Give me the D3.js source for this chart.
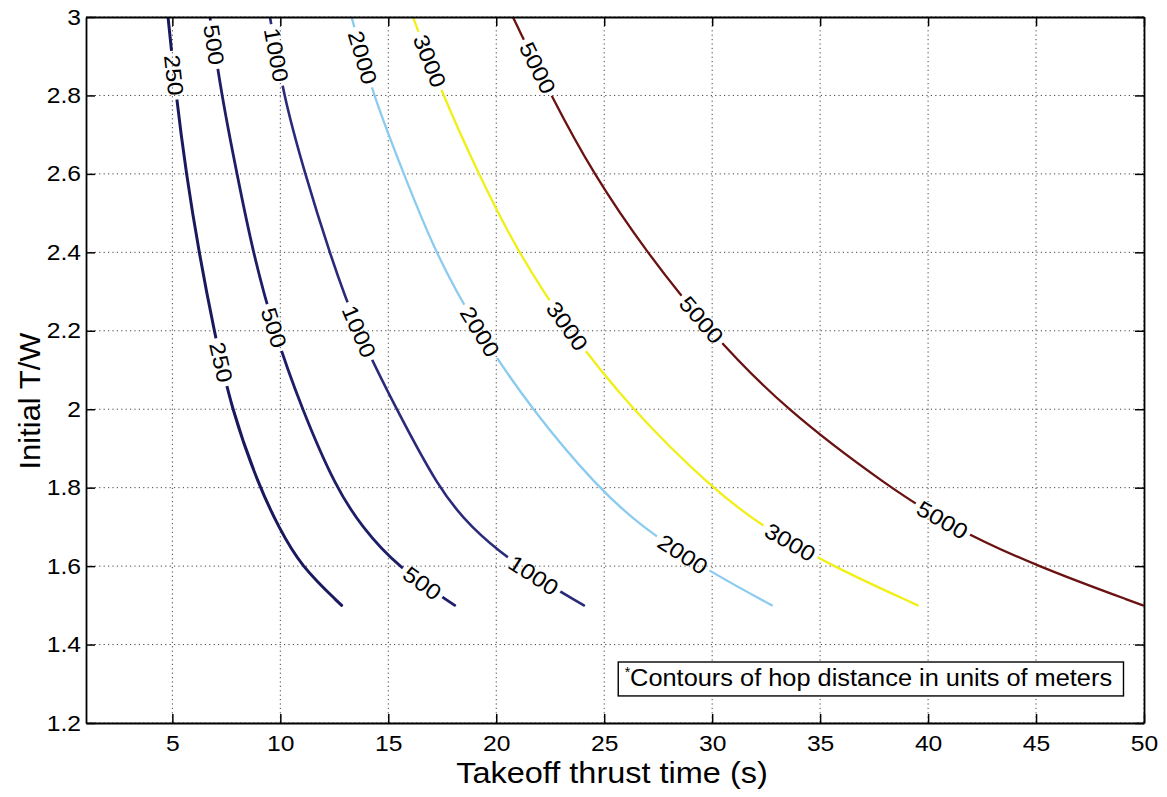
<!DOCTYPE html>
<html>
<head>
<meta charset="utf-8">
<script src="https://cdn.jsdelivr.net/npm/d3@7"></script>
<style>
  html, body { margin: 0; padding: 0; background: #fff; }
  svg { display: block; }
  text { font-family: "Liberation Sans", Arial, Helvetica, sans-serif; fill: #000; }
</style>
</head>
<body>
<svg id="chart" width="1167" height="797"></svg>
<script>
// ---------------- data ----------------
const levels = [250, 500, 1000, 2000, 3000, 5000];

const tw250   = [3.0, 2.8, 2.6, 2.4, 2.2, 2.0, 1.8, 1.7, 1.6, 1.5];
const time250 = [4.80, 5.17, 5.64, 6.23, 6.93, 7.73, 9.04, 9.92, 10.94, 12.84];

const tw500   = [3.0, 2.8, 2.6, 2.4, 2.2, 2.0, 1.8, 1.7, 1.6, 1.5];
const time500 = [6.74, 7.28, 7.99, 8.73, 9.70, 11.00, 12.57, 13.78, 15.38, 18.08];

const tw1000   = [3.0, 2.8, 2.6, 2.4, 2.2, 2.0, 1.8, 1.7, 1.6, 1.5];
const time1000 = [9.52, 10.14, 11.14, 12.27, 13.55, 15.38, 17.31, 18.78, 20.95, 24.06];

const tw2000   = [3.0, 2.8, 2.6, 2.4, 2.2, 2.0, 1.8, 1.7, 1.6, 1.5];
const time2000 = [13.30, 14.29, 15.72, 17.16, 19.15, 21.63, 24.70, 26.74, 29.43, 32.76];

const tw3000   = [3.0, 2.8, 2.6, 2.4, 2.2, 2.0, 1.8, 1.7, 1.6, 1.5];
const time3000 = [16.14, 17.53, 19.18, 21.00, 23.36, 26.26, 29.96, 32.33, 35.54, 39.52];

const tw5000   = [3.0, 2.8, 2.6, 2.4, 2.2, 2.0, 1.8, 1.7, 1.6, 1.5];
const time5000 = [20.77, 22.53, 24.49, 26.96, 29.85, 33.36, 38.22, 41.09, 45.00, 49.95];

// contour label anchors (T/W value where each in-line label sits)
const labelTW250  = [2.852, 2.12];
const labelTW500  = [2.93, 2.208, 1.557];
const labelTW1000 = [2.903, 2.198, 1.577];
const labelTW2000 = [2.897, 2.198, 1.631];
const labelTW3000 = [2.888, 2.212, 1.661];
const labelTW5000 = [2.87, 2.228, 1.718];

const xTicks = [5, 10, 15, 20, 25, 30, 35, 40, 45, 50];
const yTicks = [1.2, 1.4, 1.6, 1.8, 2.0, 2.2, 2.4, 2.6, 2.8, 3.0];
const yTickLabels = ["1.2", "1.4", "1.6", "1.8", "2", "2.2", "2.4", "2.6", "2.8", "3"];

const xTitle = "Takeoff thrust time (s)";
const yTitle = "Initial T/W";
const noteText = "Contours of hop distance in units of meters";

const colors = ["#19195e", "#1e1e68", "#2a2a7a", "#8ccbf0", "#f0f018", "#6a1212"];
const widths = [3.0, 2.8, 2.6, 2.3, 2.3, 2.3];

// ---------------- build ----------------
const series = [
  {level: 250,  t: time250,  w: tw250,  lab: labelTW250},
  {level: 500,  t: time500,  w: tw500,  lab: labelTW500},
  {level: 1000, t: time1000, w: tw1000, lab: labelTW1000},
  {level: 2000, t: time2000, w: tw2000, lab: labelTW2000},
  {level: 3000, t: time3000, w: tw3000, lab: labelTW3000},
  {level: 5000, t: time5000, w: tw5000, lab: labelTW5000}
];

const svg = d3.select("#chart");
const L = 86, R = 1144, T = 17, B = 723;
const x = d3.scaleLinear().domain([1, 50]).range([L, R]);
const y = d3.scaleLinear().domain([1.2, 3]).range([B, T]);
const STRETCH = 1.12;

function stretch(sel, k) {
  sel.each(function () {
    const w = this.getComputedTextLength();
    d3.select(this).attr("textLength", w * k).attr("lengthAdjust", "spacingAndGlyphs");
  });
}

const defs = svg.append("defs");
defs.append("clipPath").attr("id", "plotclip")
  .append("rect").attr("x", L).attr("y", T).attr("width", R - L).attr("height", B - T);

// grid
const grid = svg.append("g").attr("stroke", "#444").attr("stroke-width", 1)
  .attr("stroke-dasharray", "1.2,3.2");
grid.selectAll("line.gx").data(xTicks).join("line")
  .attr("x1", d => x(d)).attr("x2", d => x(d)).attr("y1", T).attr("y2", B);
grid.selectAll("line.gy").data(yTicks).join("line")
  .attr("y1", d => y(d)).attr("y2", d => y(d)).attr("x1", L).attr("x2", R);

// mask for label gaps
const mask = defs.append("mask").attr("id", "labelmask").attr("maskUnits", "userSpaceOnUse")
  .attr("x", 0).attr("y", 0).attr("width", 1167).attr("height", 797);
mask.append("rect").attr("x", 0).attr("y", 0).attr("width", 1167).attr("height", 797).attr("fill", "#fff");

const line = d3.line().x(d => x(d[0])).y(d => y(d[1])).curve(d3.curveBasis);

const curves = svg.append("g").attr("clip-path", "url(#plotclip)")
  .append("g").attr("mask", "url(#labelmask)");
const labelG = svg.append("g");

const LFS = 22;
series.forEach((s, i) => {
  const pts = s.t.map((v, k) => [v, s.w[k]]);
  const p = curves.append("path").datum(pts)
    .attr("d", line).attr("fill", "none")
    .attr("stroke", colors[i]).attr("stroke-width", widths[i])
    .attr("stroke-linejoin", "round").attr("stroke-linecap", "round");
  const node = p.node();
  const total = node.getTotalLength();
  s.lab.forEach(tw => {
    const ty = y(tw);
    let best = 0, bd = 1e9;
    for (let l = 0; l <= total; l += 0.5) {
      const q = node.getPointAtLength(l);
      const dd = Math.abs(q.y - ty);
      if (dd < bd) { bd = dd; best = l; }
    }
    const c = node.getPointAtLength(best);
    const a = node.getPointAtLength(Math.max(0, best - 6));
    const b = node.getPointAtLength(Math.min(total, best + 6));
    let ang = Math.atan2(b.y - a.y, b.x - a.x) * 180 / Math.PI;
    if (ang > 90) ang -= 180;
    if (ang < -90) ang += 180;
    const str = String(s.level);
    const tl = str.length * 0.62 * LFS;
    mask.append("rect")
      .attr("x", -tl / 2 - 4).attr("y", -11).attr("width", tl + 8).attr("height", 22)
      .attr("fill", "#000")
      .attr("transform", `translate(${c.x},${c.y}) rotate(${ang})`);
    labelG.append("text")
      .attr("transform", `translate(${c.x},${c.y}) rotate(${ang})`)
      .attr("text-anchor", "middle").attr("dy", "0.36em")
      .attr("font-size", LFS)
      .attr("textLength", tl).attr("lengthAdjust", "spacingAndGlyphs")
      .text(str);
  });
});

// axes
const axB = svg.append("g").attr("transform", `translate(0,${B})`)
  .call(d3.axisBottom(x).tickValues(xTicks).tickSizeInner(-9).tickSizeOuter(0).tickPadding(12).tickFormat(d3.format("d")));
const axL = svg.append("g").attr("transform", `translate(${L},0)`)
  .call(d3.axisLeft(y).tickValues(yTicks).tickSizeInner(-9).tickSizeOuter(0).tickPadding(5)
    .tickFormat((d, i) => yTickLabels[i]));
const axT = svg.append("g").attr("transform", `translate(0,${T})`)
  .call(d3.axisTop(x).tickValues(xTicks).tickSizeInner(-9).tickSizeOuter(0).tickFormat(""));
const axR = svg.append("g").attr("transform", `translate(${R},0)`)
  .call(d3.axisRight(y).tickValues(yTicks).tickSizeInner(-9).tickSizeOuter(0).tickFormat(""));

[axB, axL, axT, axR].forEach(g => {
  g.selectAll(".domain").attr("stroke", "#000").attr("stroke-width", 1.8);
  g.selectAll(".tick line").attr("stroke", "#000").attr("stroke-width", 1.5);
  g.selectAll("text").attr("font-size", 22).attr("fill", "#000")
    .attr("font-family", '"Liberation Sans", Arial, sans-serif');
});
stretch(axB.selectAll("text"), STRETCH);
stretch(axL.selectAll("text"), STRETCH);

// axis titles
const xt = svg.append("text").attr("x", (L + R) / 2 - 3).attr("y", 783)
  .attr("text-anchor", "middle").attr("font-size", 29).text(xTitle);
stretch(xt, STRETCH);
svg.append("text").attr("transform", `translate(40,401) rotate(-90)`)
  .attr("text-anchor", "middle").attr("font-size", 29)
  .attr("textLength", 137).attr("lengthAdjust", "spacingAndGlyphs").text(yTitle);

// note box
svg.append("rect").attr("x", x(25.65)).attr("y", y(1.3555)).attr("width", x(49.05) - x(25.65))
  .attr("height", y(1.269) - y(1.3555)).attr("fill", "#fff").attr("stroke", "#000").attr("stroke-width", 1.4);
svg.append("text").attr("x", x(25.95)).attr("y", y(1.318)).attr("font-size", 14).text("*");
svg.append("text").attr("x", x(26.2)).attr("y", y(1.2935)).attr("font-size", 23)
  .attr("textLength", 482).attr("lengthAdjust", "spacingAndGlyphs").text(noteText);
</script>
</body>
</html>
